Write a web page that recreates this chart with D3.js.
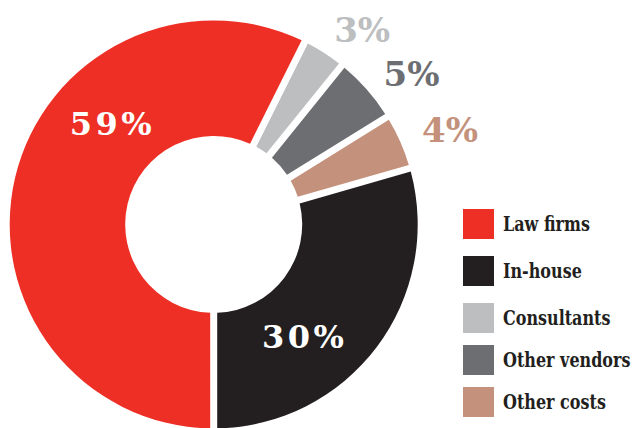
<!DOCTYPE html>
<html>
<head>
<meta charset="utf-8">
<script src="https://cdn.jsdelivr.net/npm/d3@7"></script>
<style>
  html, body { margin: 0; padding: 0; background: #fff; }
  svg { display: block; }
</style>
</head>
<body>
<svg id="chart" width="639" height="428"></svg>
<script>
// Spending shares (percent), listed in legend order
const categories = ["Law firms", "In-house", "Consultants", "Other vendors", "Other costs"];
const shares     = [59, 30, 3, 5, 4];
const valueLabels = ["59%", "30%", "3%", "5%", "4%"];
const colors     = ["#EE2F25", "#231F20", "#BCBEC0", "#6D6E71", "#C4917C"];

// Order of slices around the ring, clockwise from six o'clock
const ringOrder = ["Law firms", "Consultants", "Other vendors", "Other costs", "In-house"];

const cx = 213.7, cy = 224.4;
const rOuter = 204, rInner = 88.5;
const gap = 7; // white gap between slices, px

const svg = d3.select("#chart");

const rows = categories.map((c, i) => ({
  name: c, value: shares[i], label: valueLabels[i], color: colors[i]
}));

const pie = d3.pie()
  .value(d => d.value)
  .sort((a, b) => ringOrder.indexOf(a.name) - ringOrder.indexOf(b.name))
  .startAngle(Math.PI)
  .endAngle(3 * Math.PI)
  .padAngle(gap / rOuter);

const arc = d3.arc()
  .innerRadius(rInner)
  .outerRadius(rOuter)
  .padRadius(rOuter);

const arcs = pie(rows);

const g = svg.append("g").attr("transform", `translate(${cx},${cy})`);

g.selectAll("path.slice")
  .data(arcs)
  .join("path")
  .attr("class", "slice")
  .attr("d", arc)
  .attr("fill", d => d.data.color);

// Label placement: big shares sit inside the ring, small ones outside it
const deg = Math.PI / 180;
const labelSpec = {
  "Law firms":     { r: 144.5, angle: 314.5 * deg, size: 32, spacing: 3.5, fill: "#fff" },
  "In-house":      { r: 143.5, angle: 141.5 * deg, size: 32, spacing: 3.5, fill: "#fff" },
  "Consultants":   { r: 245,   shift: 4.6 * deg, size: 34, spacing: 0 },
  "Other vendors": { r: 248.5, shift: 4.2 * deg, size: 34, spacing: 0 },
  "Other costs":   { r: 254.5, shift: 2.1 * deg, size: 34, spacing: 0 }
};

const labels = arcs.map(a => {
  const s = labelSpec[a.data.name];
  const ang = s.angle !== undefined ? s.angle : (a.startAngle + a.endAngle) / 2 + s.shift;
  return {
    text: a.data.label,
    x: s.r * Math.sin(ang) + s.spacing / 2,
    y: -s.r * Math.cos(ang),
    size: s.size,
    spacing: s.spacing,
    fill: s.fill || a.data.color
  };
});

g.selectAll("text.value")
  .data(labels)
  .join("text")
  .attr("class", "value")
  .attr("x", d => d.x)
  .attr("y", d => d.y)
  .attr("dy", "0.36em")
  .attr("text-anchor", "middle")
  .attr("font-family", "'DejaVu Serif', 'Liberation Serif', serif")
  .attr("font-weight", "bold")
  .attr("font-size", d => d.size)
  .attr("letter-spacing", d => d.spacing)
  .attr("fill", d => d.fill)
  .text(d => d.text);

// Legend
const legendX = 463, swatchW = 31, swatchH = 30;
const legendRowTop = [209, 256, 303, 345, 387];

const legend = svg.append("g").attr("class", "legend");
const item = legend.selectAll("g.item")
  .data(rows)
  .join("g")
  .attr("class", "item")
  .attr("transform", (d, i) => `translate(${legendX},${legendRowTop[i]})`);

item.append("rect")
  .attr("width", swatchW)
  .attr("height", swatchH)
  .attr("fill", d => d.color);

// Labels are set in a slightly condensed slab serif
item.append("text")
  .attr("transform", `translate(40,${swatchH / 2 + 7}) scale(0.82,1)`)
  .attr("font-family", "'DejaVu Serif', 'Liberation Serif', serif")
  .attr("font-weight", "bold")
  .attr("font-size", 19.5)
  .attr("fill", "#231F20")
  .text(d => d.name);
</script>
</body>
</html>
